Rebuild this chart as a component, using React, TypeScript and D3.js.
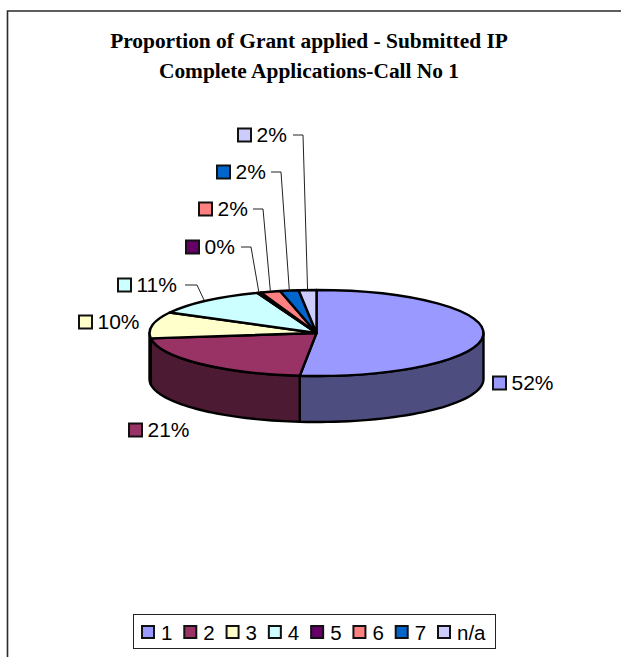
import * as d3 from "d3";

const categories = ["1", "2", "3", "4", "5", "6", "7", "n/a"];
const values = [51.6, 21.4, 9.9, 11.3, 0.4, 1.9, 1.8, 1.7];
const percentLabels = ["52%", "21%", "10%", "11%", "0%", "2%", "2%", "2%"];
const topColors = ["#9999ff", "#993366", "#ffffcc", "#ccffff", "#660066", "#ff8080", "#0066cc", "#ccccff"];
const sideColors = ["#4d4d80", "#4d1a33", "#808066", "#668080", "#330033", "#804040", "#003366", "#666680"];
const titleLines = ["Proportion of Grant applied - Submitted IP", "Complete Applications-Call No 1"];

// where each percent label sits: swatch left edge and vertical centre
const labelX = [492, 128, 78, 117, 185, 198, 216, 237];
const labelY = [383, 430, 322, 285, 247, 209, 172, 135];
// labels that get a leader line
const leaderFrom = [0, 0, 0, 185, 241, 253, 271, 293];

const WIDTH = 621;
const HEIGHT = 657;
const CX = 316.5;
const CY = 333;
const RX = 167;
const RY = 43;
const DEPTH = 46;
const ARIAL = "'Liberation Sans', Arial, sans-serif";

const pie = d3.pie<number>().sort(null).value((d) => d);
const slices = pie(values);
const unitArc = d3.arc<d3.PieArcDatum<number>>().innerRadius(0).outerRadius(1);

const px = (a: number) => CX + RX * Math.sin(a);
const py = (a: number) => CY - RY * Math.cos(a);

// visible wall of one slice, only the front half of the ellipse (90deg to 270deg)
function wallPath(start: number, end: number) {
  const a0 = Math.max(start, Math.PI / 2);
  const a1 = Math.min(end, (3 * Math.PI) / 2);
  if (a1 <= a0) return null;
  const p = d3.path();
  p.moveTo(px(a0), py(a0));
  const n = 40;
  for (let i = 1; i <= n; i++) {
    const a = a0 + ((a1 - a0) * i) / n;
    p.lineTo(px(a), py(a));
  }
  for (let i = n; i >= 0; i--) {
    const a = a0 + ((a1 - a0) * i) / n;
    p.lineTo(px(a), py(a) + DEPTH);
  }
  p.closePath();
  return p.toString();
}

function Swatch({ x, y, size, fill }: { x: number; y: number; size: number; fill: string }) {
  return <rect x={x + 1} y={y - size / 2} width={size} height={size} fill={fill} stroke="#111" strokeWidth={2} />;
}

const legendX = d3.scalePoint<string>().domain(categories).range([141, 437]);

export default function App() {
  return (
    <svg
      width={WIDTH}
      height={HEIGHT}
      viewBox={`0 0 ${WIDTH} ${HEIGHT}`}
      style={{ position: "absolute", left: 0, top: 0, background: "#fff" }}
    >
      <path d={`M7.5,${HEIGHT} V11 H${WIDTH}`} fill="none" stroke="#2a2a2a" strokeWidth={1.6} />

      {titleLines.map((t, i) => (
        <text
          key={t}
          x={309}
          y={48 + i * 30}
          textAnchor="middle"
          fontFamily="'Liberation Serif', 'Times New Roman', serif"
          fontWeight="bold"
          fontSize={21.4}
          fill="#000"
        >
          {t}
        </text>
      ))}

      {slices.map((s, i) => {
        const d = wallPath(s.startAngle, s.endAngle);
        return d ? <path key={i} d={d} fill={sideColors[i]} stroke="#000" strokeWidth={2.4} strokeLinejoin="round" /> : null;
      })}

      <g transform={`translate(${CX},${CY}) scale(${RX},${RY})`}>
        {slices.map((s, i) => (
          <path
            key={i}
            d={unitArc(s) as string}
            fill={topColors[i]}
            stroke="#000"
            strokeWidth={2.4}
            strokeLinejoin="round"
            vectorEffect="non-scaling-stroke"
          />
        ))}
      </g>

      {slices.map((s, i) => {
        if (!leaderFrom[i]) return null;
        const mid = (s.startAngle + s.endAngle) / 2;
        const ex = px(mid);
        const ey = py(mid);
        // slice 4 bends early and slants down, the thin ones run almost straight down
        const kneeX = i === 3 ? leaderFrom[i] + 12 : leaderFrom[i] + 10;
        const tipX = i === 3 ? kneeX + 7 : ex;
        const tipY = i === 3 ? 300 : ey;
        return (
          <polyline
            key={i}
            points={`${leaderFrom[i]},${labelY[i]} ${kneeX},${labelY[i]} ${tipX},${tipY}`}
            fill="none"
            stroke="#222"
            strokeWidth={1}
          />
        );
      })}

      {categories.map((_, i) => (
        <g key={i}>
          <Swatch x={labelX[i]} y={labelY[i]} size={13} fill={topColors[i]} />
          <text x={labelX[i] + 19.5} y={labelY[i] + 7} fontFamily={ARIAL} fontSize={21} fill="#000">
            {percentLabels[i]}
          </text>
        </g>
      ))}

      <rect x={133.5} y={614.5} width={362} height={34} fill="#fff" stroke="#222" strokeWidth={1} />
      {categories.map((c, i) => (
        <g key={c}>
          <Swatch x={legendX(c) as number} y={632} size={12} fill={topColors[i]} />
          <text x={(legendX(c) as number) + 20} y={639.5} fontFamily={ARIAL} fontSize={20.5} fill="#000">
            {c}
          </text>
        </g>
      ))}
    </svg>
  );
}
